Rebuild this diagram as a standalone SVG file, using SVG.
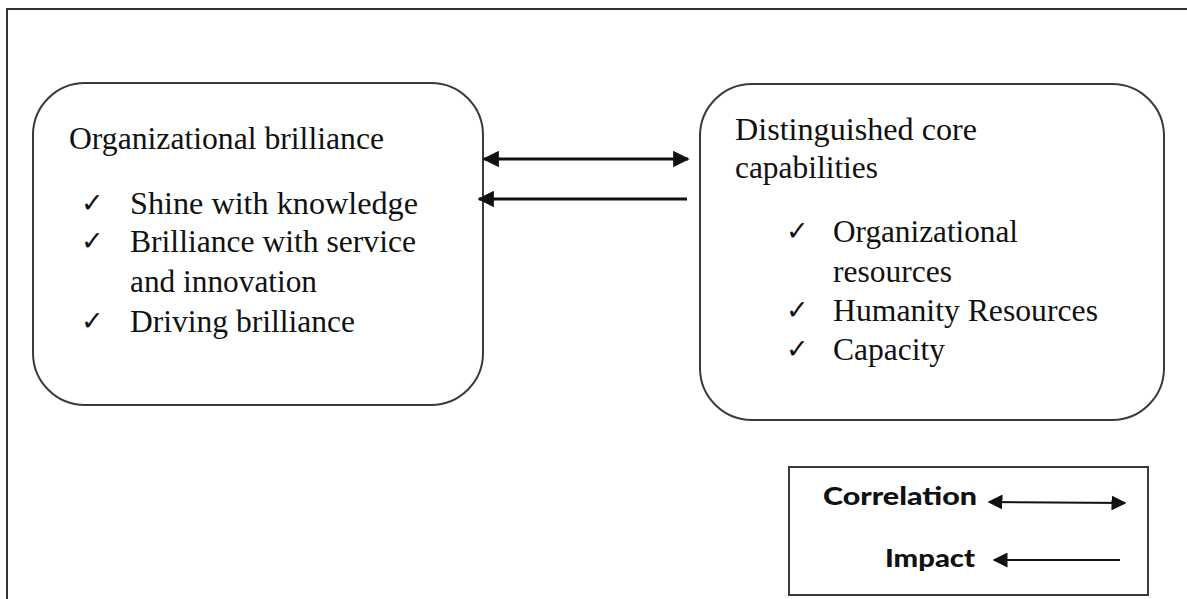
<svg xmlns="http://www.w3.org/2000/svg" width="1187" height="599" viewBox="0 0 1187 599">
  <style>
    .frame { fill: #ffffff; stroke: #333333; stroke-width: 2; }
    .box { fill: #ffffff; stroke: #3a3a3a; stroke-width: 2; }
    .t { font-family: 'Liberation Serif', 'Times New Roman', Times, serif; font-size: 31px; fill: #111111; }
    .chk { font-family: 'DejaVu Sans', sans-serif; font-size: 27px; font-weight: bold; fill: #111111; }
    .leg { font-family: Lato, 'Open Sans', sans-serif; font-weight: 900; font-size: 25px; fill: #111111; }
    .conn { stroke: #111111; stroke-width: 3; fill: none; }
    .lconn { stroke: #111111; stroke-width: 2; fill: none; }
  </style>
  <defs>
    <marker id="ah" viewBox="0 0 10 10" refX="9" refY="5" markerWidth="5.5" markerHeight="5.5" markerUnits="strokeWidth" orient="auto-start-reverse">
      <path d="M0,0 L10,5 L0,10 z" fill="#111111"/>
    </marker>
    <marker id="ahl" viewBox="0 0 10 10" refX="9" refY="5" markerWidth="7.5" markerHeight="7.5" markerUnits="strokeWidth" orient="auto-start-reverse">
      <path d="M0,0 L10,5 L0,10 z" fill="#111111"/>
    </marker>
  </defs>
  <rect width="1187" height="599" fill="#ffffff"/>
  <rect id="frame" class="frame" x="7" y="9" width="1200" height="620"/>

  <g id="node-brilliance">
    <rect class="box" x="33" y="83" width="450" height="322" rx="52" ry="52"/>
    <text class="t" x="69" y="149" textLength="315" lengthAdjust="spacingAndGlyphs">Organizational brilliance</text>
    <text class="chk" x="81" y="212">✓</text>
    <text class="t" x="130" y="214" textLength="288" lengthAdjust="spacingAndGlyphs">Shine with knowledge</text>
    <text class="chk" x="81" y="250">✓</text>
    <text class="t" x="130" y="252" textLength="286" lengthAdjust="spacingAndGlyphs">Brilliance with service</text>
    <text class="t" x="130" y="292" textLength="187" lengthAdjust="spacingAndGlyphs">and innovation</text>
    <text class="chk" x="81" y="330">✓</text>
    <text class="t" x="130" y="332" textLength="225" lengthAdjust="spacingAndGlyphs">Driving brilliance</text>
  </g>

  <g id="node-capabilities">
    <rect class="box" x="700" y="84" width="464" height="336" rx="52" ry="52"/>
    <text class="t" x="735" y="140" textLength="242" lengthAdjust="spacingAndGlyphs">Distinguished core</text>
    <text class="t" x="735" y="178" textLength="143" lengthAdjust="spacingAndGlyphs">capabilities</text>
    <text class="chk" x="786" y="240">✓</text>
    <text class="t" x="833" y="242" textLength="185" lengthAdjust="spacingAndGlyphs">Organizational</text>
    <text class="t" x="833" y="282" textLength="119" lengthAdjust="spacingAndGlyphs">resources</text>
    <text class="chk" x="786" y="319">✓</text>
    <text class="t" x="833" y="321" textLength="265" lengthAdjust="spacingAndGlyphs">Humanity Resources</text>
    <text class="chk" x="786" y="358">✓</text>
    <text class="t" x="833" y="360" textLength="112" lengthAdjust="spacingAndGlyphs">Capacity</text>
  </g>

  <g id="connectors">
    <line class="conn" x1="484" y1="159" x2="688" y2="159" marker-start="url(#ah)" marker-end="url(#ah)"/>
    <line class="conn" x1="687" y1="199" x2="479" y2="199" marker-end="url(#ah)"/>
  </g>

  <g id="legend">
    <rect class="box" x="789" y="467" width="359" height="128"/>
    <text class="leg" x="823" y="505" textLength="154" lengthAdjust="spacingAndGlyphs">Correlation</text>
    <text class="leg" x="885" y="567" textLength="90" lengthAdjust="spacingAndGlyphs">Impact</text>
    <line class="lconn" x1="989" y1="502" x2="1125" y2="503" marker-start="url(#ahl)" marker-end="url(#ahl)"/>
    <line class="lconn" x1="1120" y1="560" x2="994" y2="560" marker-end="url(#ahl)"/>
  </g>
</svg>
